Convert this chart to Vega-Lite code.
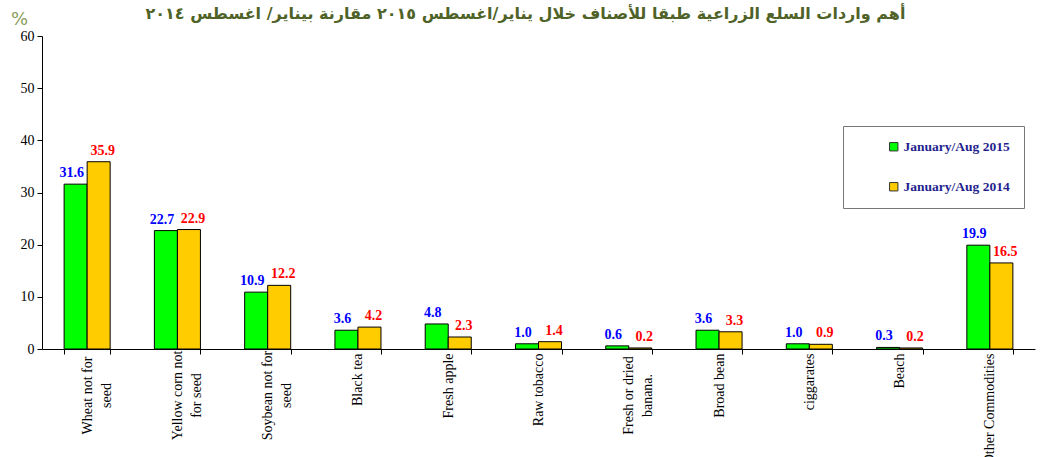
{
  "$schema": "https://vega.github.io/schema/vega-lite/v6.json",
  "width": 993,
  "height": 313,
  "autosize": "none",
  "padding": {"left": 42, "top": 36, "right": 8, "bottom": 108},
  "background": "white",
  "config": {"view": {"stroke": null}},
  "title": {
    "text": "أهم واردات السلع الزراعية طبقا للأصناف خلال يناير/اغسطس ٢٠١٥ مقارنة بيناير/ اغسطس ٢٠١٤",
    "font": "DejaVu Sans",
    "fontSize": 16,
    "fontWeight": "bold",
    "color": "#4F6228",
    "anchor": "middle",
    "baseline": "middle",
    "dx": -13,
    "dy": 24,
    "offset": 4
  },
  "data": {
    "values": [
      {"commodity": "Wheat not for seed", "series": "January/Aug 2015", "value": 31.6},
      {"commodity": "Wheat not for seed", "series": "January/Aug 2014", "value": 35.9},
      {"commodity": "Yellow corn not for seed", "series": "January/Aug 2015", "value": 22.7},
      {"commodity": "Yellow corn not for seed", "series": "January/Aug 2014", "value": 22.9},
      {"commodity": "Soybean not for seed", "series": "January/Aug 2015", "value": 10.9},
      {"commodity": "Soybean not for seed", "series": "January/Aug 2014", "value": 12.2},
      {"commodity": "Black tea", "series": "January/Aug 2015", "value": 3.6},
      {"commodity": "Black tea", "series": "January/Aug 2014", "value": 4.2},
      {"commodity": "Fresh apple", "series": "January/Aug 2015", "value": 4.8},
      {"commodity": "Fresh apple", "series": "January/Aug 2014", "value": 2.3},
      {"commodity": "Raw tobacco", "series": "January/Aug 2015", "value": 1.0},
      {"commodity": "Raw tobacco", "series": "January/Aug 2014", "value": 1.4},
      {"commodity": "Fresh or dried banana.", "series": "January/Aug 2015", "value": 0.6},
      {"commodity": "Fresh or dried banana.", "series": "January/Aug 2014", "value": 0.2},
      {"commodity": "Broad bean", "series": "January/Aug 2015", "value": 3.6},
      {"commodity": "Broad bean", "series": "January/Aug 2014", "value": 3.3},
      {"commodity": "ciggarates", "series": "January/Aug 2015", "value": 1.0},
      {"commodity": "ciggarates", "series": "January/Aug 2014", "value": 0.9},
      {"commodity": "Beach", "series": "January/Aug 2015", "value": 0.3},
      {"commodity": "Beach", "series": "January/Aug 2014", "value": 0.2},
      {"commodity": "Other Commodities", "series": "January/Aug 2015", "value": 19.9},
      {"commodity": "Other Commodities", "series": "January/Aug 2014", "value": 16.5}
    ]
  },
  "encoding": {
    "x": {
      "field": "commodity",
      "type": "nominal",
      "sort": null,
      "scale": {"paddingInner": 0.49, "paddingOuter": 0.245},
      "axis": {
        "title": null,
        "labelAngle": 270,
        "labelFont": "Liberation Serif",
        "labelFontSize": 14,
        "labelColor": "black",
        "labelBaseline": "middle",
        "labelAlign": {"condition": {"test": "indexof(['Wheat not for seed','Yellow corn not for seed','Soybean not for seed','Fresh or dried banana.'], datum.value) >= 0", "value": "center"}, "value": "right"},
        "labelPadding": {"condition": {"test": "indexof(['Wheat not for seed','Yellow corn not for seed','Soybean not for seed','Fresh or dried banana.'], datum.value) >= 0", "value": 41}, "value": -1},
        "labelLineHeight": 19,
        "labelLimit": 200,
        "labelExpr": "datum.value == 'Wheat not for seed' ? ['Wheat not for', 'seed'] : datum.value == 'Yellow corn not for seed' ? ['Yellow corn not', 'for seed'] : datum.value == 'Soybean not for seed' ? ['Soybean not for', 'seed'] : datum.value == 'Fresh or dried banana.' ? ['Fresh or dried', 'banana.'] : datum.label",
        "tickBand": "extent",
        "tickSize": 5,
        "tickColor": "black",
        "domainColor": "black",
        "grid": false
      }
    },
    "xOffset": {"field": "series", "type": "nominal", "sort": ["January/Aug 2015", "January/Aug 2014"]},
    "y": {
      "field": "value",
      "type": "quantitative",
      "scale": {"domain": [0, 60], "nice": false},
      "axis": {
        "title": "%",
        "titleAngle": 0,
        "titleX": -23,
        "titleY": -17,
        "titleAlign": "center",
        "titleBaseline": "middle",
        "titleFont": "DejaVu Sans",
        "titleFontSize": 18,
        "titleFontWeight": "normal",
        "titleColor": "#8AA05B",
        "values": [0, 10, 20, 30, 40, 50, 60],
        "grid": false,
        "domainColor": "black",
        "tickColor": "black",
        "tickSize": 5,
        "labelFont": "Liberation Serif",
        "labelFontSize": 14,
        "labelColor": "black",
        "labelPadding": 3
      }
    }
  },
  "layer": [
    {
      "mark": {"type": "bar", "stroke": "black", "strokeWidth": 1},
      "encoding": {
        "color": {
          "field": "series",
          "type": "nominal",
          "scale": {"domain": ["January/Aug 2015", "January/Aug 2014"], "range": ["#00FF00", "#FFCC00"]},
          "legend": {
            "title": null,
            "orient": "none",
            "legendX": 801,
            "legendY": 90,
            "direction": "vertical",
            "padding": 14,
            "rowPadding": 25,
            "symbolOffset": 30,
            "strokeColor": "#777777",
            "fillColor": "white",
            "symbolType": "square",
            "symbolSize": 70,
            "symbolStrokeColor": "#333333",
            "symbolStrokeWidth": 1,
            "labelFont": "Liberation Serif",
            "labelFontSize": 13.5,
            "labelFontWeight": "bold",
            "labelColor": "#1F1F8F",
            "labelOffset": 3
          }
        }
      }
    },
    {
      "transform": [{"filter": "datum.series == 'January/Aug 2015'"}],
      "mark": {"type": "text", "baseline": "alphabetic", "dy": -7, "dx": -4, "font": "Liberation Serif", "fontSize": 14, "fontWeight": "bold", "color": "#0000FF"},
      "encoding": {
        "text": {"field": "value", "type": "quantitative", "format": ".1f"}
      }
    },
    {
      "transform": [{"filter": "datum.series == 'January/Aug 2014'"}],
      "mark": {"type": "text", "baseline": "alphabetic", "dy": -7, "dx": 4, "font": "Liberation Serif", "fontSize": 14, "fontWeight": "bold", "color": "#FF0000"},
      "encoding": {
        "text": {"field": "value", "type": "quantitative", "format": ".1f"}
      }
    }
  ]
}
